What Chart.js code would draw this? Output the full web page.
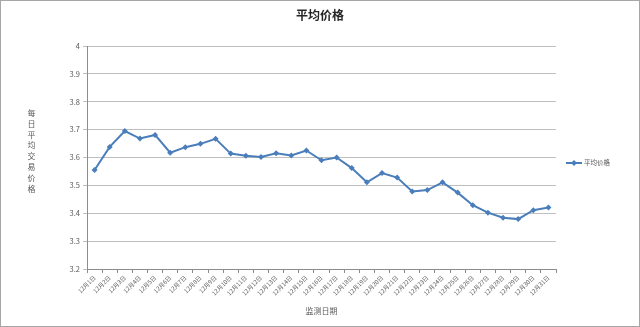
<!DOCTYPE html>
<html>
<head>
<meta charset="utf-8">
<script src="https://cdn.jsdelivr.net/npm/chart.js@4"></script>
<style>
html,body{margin:0;padding:0;background:#fff;}
#wrap{width:640px;height:327px;position:relative;}
</style>
</head>
<body>
<div id="wrap"><canvas id="c" width="640" height="327"></canvas></div>
<script>
const chartTitle = '平均价格';
const xTitle = '监测日期';
const yTitle = '每日平均交易价格';
const seriesName = '平均价格';
const categories = ['12月1日','12月2日','12月3日','12月4日','12月5日','12月6日','12月7日','12月8日','12月9日','12月10日',
  '12月11日','12月12日','12月13日','12月14日','12月15日','12月16日','12月17日','12月18日','12月19日','12月20日',
  '12月21日','12月22日','12月23日','12月24日','12月25日','12月26日','12月27日','12月28日','12月29日','12月30日','12月31日'];
const prices = [3.555,3.638,3.695,3.668,3.681,3.617,3.637,3.649,3.667,3.614,
  3.606,3.602,3.615,3.607,3.625,3.590,3.600,3.562,3.511,3.544,
  3.528,3.478,3.483,3.511,3.474,3.429,3.402,3.384,3.379,3.411,3.421];
const yMin = 3.2, yMax = 4, yStep = 0.1;

const LINE = '#4a7ebb';
const TXT = '#595959';
const CJK = '"Noto Sans CJK SC", "Noto Sans", sans-serif';

const decor = {
  id: 'decor',
  afterDraw(chart) {
    const ctx = chart.ctx;
    ctx.save();
    // outer frame
    ctx.strokeStyle = '#a6a6a6';
    ctx.lineWidth = 1;
    ctx.strokeRect(0.5, 0.5, 639, 326);
    // title
    ctx.fillStyle = '#262626';
    ctx.font = 'bold 12px ' + CJK;
    ctx.textAlign = 'center';
    ctx.textBaseline = 'middle';
    ctx.fillText(chartTitle, 320, 15);
    // y title stacked characters
    ctx.fillStyle = TXT;
    ctx.font = '8px ' + CJK;
    const chars = Array.from(yTitle);
    chars.forEach((ch, i) => ctx.fillText(ch, 31.5, 113 + i * 10.8));
    // legend
    const ly = 163;
    ctx.strokeStyle = LINE;
    ctx.lineWidth = 2;
    ctx.beginPath(); ctx.moveTo(566, ly); ctx.lineTo(582, ly); ctx.stroke();
    ctx.fillStyle = LINE;
    ctx.beginPath();
    ctx.moveTo(574, ly - 3); ctx.lineTo(577, ly); ctx.lineTo(574, ly + 3); ctx.lineTo(571, ly);
    ctx.closePath(); ctx.fill();
    ctx.fillStyle = TXT;
    ctx.font = '6.5px ' + CJK;
    ctx.textAlign = 'left';
    ctx.fillText(chart.data.datasets[0].label, 584, ly);
    ctx.restore();
  }
};

new Chart(document.getElementById('c'), {
  type: 'line',
  data: {
    labels: categories,
    datasets: [{
      label: seriesName,
      data: prices,
      borderColor: LINE,
      backgroundColor: LINE,
      borderWidth: 2,
      pointStyle: 'rectRot',
      pointRadius: 3,
      pointBorderWidth: 0,
      pointBackgroundColor: LINE,
      tension: 0
    }]
  },
  options: {
    responsive: false,
    animation: false,
    layout: { padding: { top: 46, right: 84, left: 0, bottom: 0 } },
    plugins: {
      legend: { display: false },
      title: { display: false },
      tooltip: { enabled: false }
    },
    scales: {
      x: {
        type: 'category',
        offset: true,
        afterFit(s) { s.height = 58; },
        grid: { offset: true, drawOnChartArea: false, drawTicks: true, tickLength: 4, color: '#8c8c8c' },
        border: { color: '#8c8c8c', width: 1 },
        ticks: {
          autoSkip: false, minRotation: 45, maxRotation: 45, padding: 1,
          color: TXT, font: { family: CJK, size: 6 }
        },
        title: {
          display: true, text: xTitle, color: TXT,
          font: { family: CJK, size: 8 }, padding: { top: 0, bottom: 11 }
        }
      },
      y: {
        min: yMin, max: yMax,
        afterFit(s) { s.width = 87; },
        grid: { color: '#bfbfbf', tickLength: 4, drawTicks: true },
        border: { color: '#8c8c8c', width: 1 },
        ticks: {
          stepSize: yStep, padding: 3, color: TXT,
          font: { family: CJK, size: 7.5 },
          callback: (v) => String(Math.round(v * 10) / 10)
        }
      }
    }
  },
  plugins: [decor]
});
</script>
</body>
</html>
